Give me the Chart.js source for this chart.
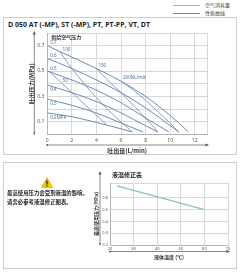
<!DOCTYPE html>
<html>
<head>
<meta charset="utf-8">
<script src="https://cdn.jsdelivr.net/npm/chart.js"></script>
<style>
body { margin: 0; width: 240px; height: 272px; background: #fff; position: relative; overflow: hidden;
       font-family: 'Noto Sans CJK SC', 'Noto Sans', sans-serif; color: #333; }
.panel { position: absolute; left: 3px; width: 232px; border: 1px solid #cdcdcd; }
canvas { position: absolute; left: 0; }
.lg { position: absolute; left: 173px; width: 27px; height: 0; }
.lgText { position: absolute; left: 205px; font-size: 5px; line-height: 6px; color: #444; }
#model { position: absolute; left: 8px; top: 20px; font: bold 7px 'Open Sans', sans-serif; color: #222; white-space: nowrap; }
#note { position: absolute; left: 7px; top: 189px; font-size: 5.4px; line-height: 9px; font-weight: bold; color: #222; white-space: nowrap; }
#warn { position: absolute; left: 41px; top: 177px; }
</style>
</head>
<body>
<div class="lg" style="top:5px;border-top:1px solid #9fb2cc"></div>
<div class="lgText" style="top:2px">空气消耗量</div>
<div class="lg" style="top:13px;border-top:1px solid #6a86aa"></div>
<div class="lgText" style="top:10px">性能曲线</div>

<div class="panel" style="top:17px;height:136px"></div>
<div class="panel" style="top:162px;height:105px"></div>
<div id="model">D 050 AT (-MP), ST (-MP), PT, PT-PP, VT, DT</div>

<canvas id="flowChart" width="240" height="160" style="top:0"></canvas>
<canvas id="tempChart" width="240" height="112" style="top:160px"></canvas>

<svg id="warn" width="12" height="11" viewBox="0 0 12 11">
  <path d="M6 0.5 L11.5 10.5 L0.5 10.5 Z" fill="#f2c200" stroke="#c99a00" stroke-width="0.5"/>
  <rect x="5.4" y="3.5" width="1.2" height="4" fill="#222"/>
  <rect x="5.4" y="8.3" width="1.2" height="1.2" fill="#222"/>
</svg>
<div id="note">最高使用压力会受到液温的影响。<br>请务必参考液温修正图表。</div>

<script>
// 性能曲线 (供给空气压力)
const pressureNames = ['0.7', '0.6', '0.5', '0.4', '0.3', '0.2MPa'];
const press07 = [[0, 0.70], [2, 0.61], [4, 0.52], [6, 0.42], [8, 0.30], [10, 0.15], [11.5, 0.02]];
const press06 = [[0, 0.60], [2, 0.52], [4, 0.43], [6, 0.33], [8, 0.21], [10, 0.07], [10.7, 0.02]];
const press05 = [[0, 0.50], [2, 0.43], [4, 0.35], [6, 0.25], [8, 0.13], [9.9, 0.02]];
const press04 = [[0, 0.39], [2, 0.33], [4, 0.26], [6, 0.17], [8, 0.07], [9.0, 0.02]];
const press03 = [[0, 0.28], [2, 0.23], [4, 0.17], [6, 0.09], [7.8, 0.02]];
const press02 = [[0, 0.17], [2, 0.14], [4, 0.095], [6, 0.045], [6.9, 0.02]];

// 空气消耗量
const airNames = ['50', '100', '150', '200NL/min'];
const air50 = [[0.2, 0.495], [1, 0.42], [2, 0.33], [3, 0.24], [4, 0.15], [4.8, 0.08]];
const air100 = [[1, 0.655], [2, 0.52], [3, 0.40], [4, 0.29], [5, 0.19], [6, 0.10], [6.9, 0.02]];
const air150 = [[4, 0.52], [5, 0.42], [6, 0.33], [7, 0.23], [8, 0.13], [9, 0.02]];
const air200 = [[6, 0.42], [7, 0.35], [8, 0.27], [9, 0.18], [10, 0.09], [10.7, 0.02]];

// 液温修正表
const liquidTemp = [23, 60];
const maxPressure = [0.70, 0.50];

const cjk = "'Noto Sans CJK SC', 'Noto Sans', sans-serif";
const gridColor = '#d8d8d8';
const pressColor = '#5f7fa8';
const airColor = '#7d98bd';

function curve(label, data, color, dx, dy, at) {
    return {
        label: label, data: data, borderColor: color, borderWidth: 0.9,
        pointRadius: 0, tension: 0.4, cubicInterpolationMode: 'monotone',
        labelDx: dx, labelDy: dy, labelAt: at || 0
    };
}

const pressData = [press07, press06, press05, press04, press03, press02];
const airData = [air50, air100, air150, air200];
const datasets = [];
pressData.forEach((d, i) => {
    datasets.push(curve(pressureNames[i], d, pressColor, 3, i < 3 ? -2.5 : 5));
});
datasets.push(curve(airNames[0], air50, airColor, 3, 0, 1));
datasets.push(curve(airNames[1], air100, airColor, 3, -2));
datasets.push(curve(airNames[2], air150, airColor, 2, -3));
datasets.push(curve(airNames[3], air200, airColor, 2, -3));

// 曲线旁的小标签 + 轴旁箭头
const curveLabels = {
    id: 'curveLabels',
    afterDatasetsDraw(chart) {
        const {ctx, chartArea, scales: {x, y}} = chart;
        ctx.save();
        ctx.font = "4.5px 'Noto Sans'";
        ctx.fillStyle = '#4a6b98';
        ctx.textBaseline = 'middle';
        chart.data.datasets.forEach(ds => {
            const p = ds.data[ds.labelAt];
            ctx.fillText(ds.label, x.getPixelForValue(p[0]) + ds.labelDx, y.getPixelForValue(p[1]) + ds.labelDy);
        });
        ctx.font = 'bold 5px ' + cjk;
        ctx.fillStyle = '#333';
        ctx.fillText('供给空气压力', chartArea.left + 4, chartArea.top + 4.5);
        ctx.restore();
    }
};

function axisArrows(vx, hy, topExtra) {
    return {
        id: 'axisArrows',
        afterDraw(chart) {
            const {ctx, chartArea: a} = chart;
            const lx = a.left - vx, ly = a.bottom + hy;
            ctx.save();
            ctx.strokeStyle = '#555';
            ctx.fillStyle = '#555';
            ctx.lineWidth = 0.7;
            ctx.beginPath();
            ctx.moveTo(lx, a.top - topExtra); ctx.lineTo(lx, a.bottom - 1);
            ctx.moveTo(a.left, ly); ctx.lineTo(a.right, ly);
            ctx.stroke();
            ctx.beginPath();
            ctx.moveTo(lx, a.top - topExtra - 2); ctx.lineTo(lx - 1.5, a.top - topExtra + 1.5); ctx.lineTo(lx + 1.5, a.top - topExtra + 1.5);
            ctx.fill();
            ctx.beginPath();
            ctx.moveTo(a.right + 2, ly); ctx.lineTo(a.right - 1.5, ly - 1.5); ctx.lineTo(a.right - 1.5, ly + 1.5);
            ctx.fill();
            ctx.beginPath();
            ctx.arc(a.left, ly, 0.9, 0, Math.PI * 2);
            ctx.arc(lx, a.bottom - 1, 0.9, 0, Math.PI * 2);
            ctx.fill();
            ctx.restore();
        }
    };
}

new Chart(document.getElementById('flowChart'), {
    type: 'line',
    data: { datasets: datasets },
    options: {
        responsive: false,
        animation: false,
        layout: { padding: { left: 0, top: 33, right: 33, bottom: 0 } },
        plugins: { legend: { display: false }, tooltip: { enabled: false } },
        scales: {
            x: {
                type: 'linear', min: 0, max: 13,
                afterFit(s) { s.height = 25.5; },
                ticks: { stepSize: 2, padding: 3, color: '#555', font: { size: 5, family: 'Noto Sans' },
                         maxRotation: 0, callback: v => (v === 13 ? '' : v) },
                grid: { color: gridColor, drawTicks: false },
                border: { color: '#b5b5b5' },
                title: { display: true, text: '吐出量(L/min)', color: '#333',
                         font: { size: 6, weight: 'bold', family: cjk }, padding: { top: 0, bottom: 6 } }
            },
            y: {
                min: 0, max: 0.8,
                afterFit(s) { s.width = 47.3; },
                ticks: { stepSize: 0.1, padding: 3, color: '#555', font: { size: 5, family: 'Noto Sans' },
                         callback: v => { const k = Math.round(v * 10); return k % 2 === 1 ? (k / 10).toFixed(1) : ''; } },
                grid: { color: gridColor, drawTicks: false },
                border: { color: '#b5b5b5' },
                title: { display: true, text: '吐出压力(MPa)', color: '#333',
                         font: { size: 6, weight: 'bold', family: cjk }, padding: { top: 28, bottom: 0 } }
            }
        }
    },
    plugins: [curveLabels, axisArrows(13, 10.5, 0)]
});

const tempTitle = {
    id: 'tempTitle',
    afterDraw(chart) {
        const {ctx, chartArea: a} = chart;
        ctx.save();
        ctx.font = 'bold 6px ' + cjk;
        ctx.fillStyle = '#222';
        ctx.textBaseline = 'middle';
        ctx.fillText('液温修正表', a.left + 2, a.top - 8);
        ctx.restore();
    }
};

new Chart(document.getElementById('tempChart'), {
    type: 'line',
    data: {
        datasets: [{
            label: '最高使用压力',
            data: liquidTemp.map((t, i) => [t, maxPressure[i]]),
            borderColor: '#86c8a2', borderWidth: 1.2, pointRadius: 0
        }]
    },
    options: {
        responsive: false,
        animation: false,
        layout: { padding: { left: 90, top: 23, right: 12, bottom: 0 } },
        plugins: { legend: { display: false }, tooltip: { enabled: false } },
        scales: {
            x: {
                type: 'linear', min: 20, max: 70,
                afterFit(s) { s.height = 27; },
                ticks: { stepSize: 10, padding: 1.5, color: '#555', font: { size: 4, family: 'Noto Sans' }, maxRotation: 0 },
                grid: { color: gridColor, drawTicks: false },
                border: { color: '#b5b5b5' },
                title: { display: true, text: '液体温度 (℃)', color: '#333',
                         font: { size: 5, weight: 'bold', family: cjk }, padding: { top: 0, bottom: 12 } }
            },
            y: {
                min: 0.2, max: 0.725,
                afterFit(s) { s.width = 20; },
                ticks: { stepSize: 0.1, padding: 2, color: '#555', font: { size: 4, family: 'Noto Sans' },
                         callback: v => { const k = Math.round(v * 100); return k % 10 === 0 ? (k / 100).toFixed(1) : ''; } },
                grid: { color: gridColor, drawTicks: false },
                border: { color: '#b5b5b5' },
                title: { display: true, text: '最高使用压力(MPa)', color: '#333',
                         font: { size: 5, weight: 'bold', family: cjk }, padding: { top: 3, bottom: 0 } }
            }
        }
    },
    plugins: [tempTitle, axisArrows(10, 6.5, 10)]
});
</script>
</body>
</html>
